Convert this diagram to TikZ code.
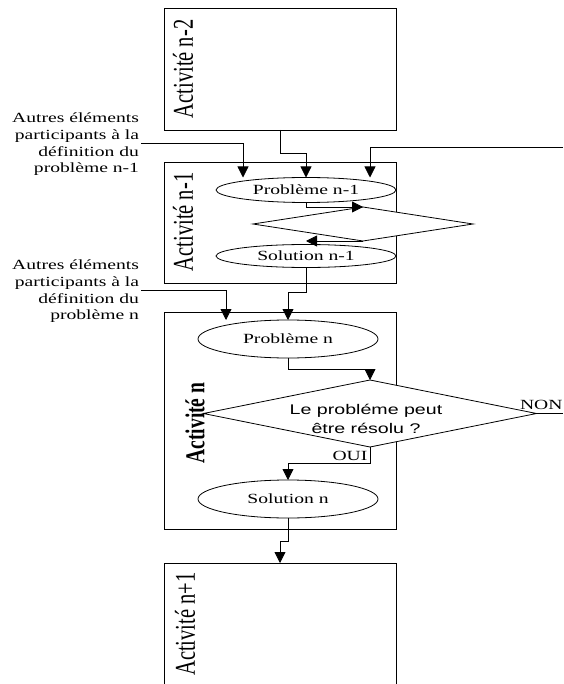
\documentclass[tikz,border=0pt]{standalone}
\usepackage{graphicx}
\usepackage{fontspec}
\setmainfont{Liberation Serif}
\newfontfamily\arialfont{Liberation Sans}
\usetikzlibrary{shapes.geometric,arrows.meta}
% text is set wide (horizontal labels) or tall (labels turned by 90 degrees)
\newcommand\wide[1]{\scalebox{1.4}[1]{#1}}
\newcommand\tall[1]{\scalebox{1}[1.4]{#1}}

\begin{document}
\begin{tikzpicture}[x=1pt,y=-1pt,
  every node/.style={inner sep=0pt, outer sep=0pt},
  actbox/.style={draw, line width=0.9pt, minimum width=232pt},
  state/.style={ellipse, draw, fill=white, line width=0.8pt, minimum width=180pt,
    font=\fontsize{14}{16}\selectfont},
  test/.style={diamond, draw, fill=white, line width=0.8pt},
  vlabel/.style={rotate=90, font=\fontsize{20.5}{24}\selectfont},
  note/.style={anchor=north east, font=\fontsize{14}{16.7}\selectfont},
  flow/.style={line width=0.8pt, -{Triangle[width=11pt,length=11pt]}},
  wire/.style={line width=0.8pt}]

\useasboundingbox (0,0) rectangle (563,684);

% activity frames
\node[actbox, minimum height=122pt] (A2) at (280,69) {};
\node[actbox, minimum height=121pt] (A1) at (280,222.5) {};
\node[actbox, minimum height=217pt] (AN) at (280,420.5) {};
\node[minimum width=232pt, minimum height=121pt] (A3) at (280,623.5) {};
\draw[line width=0.9pt] (A3.south west) -- (A3.north west) -- (A3.north east) -- (A3.south east);

% problems and solutions
\node[state, minimum height=25pt] (P1) at (306,190) {\wide{Problème n-1}};
\node[state, minimum height=23pt] (S1) at (306,256) {\wide{Solution n-1}};
\node[state, minimum height=38pt] (PN) at (288,339) {\wide{Problème n}};
\node[state, minimum height=38pt] (SN) at (288,499) {\wide{Solution n}};

% decisions
\node[test, minimum width=220pt, minimum height=34pt] (D1) at (363,224) {};
\node[test, minimum width=333pt, minimum height=67pt] (DN) at (370,413.5) {};
\node[font=\arialfont\fontsize{14}{19.5}\selectfont] (Q) at (366,420)
  {\wide{\begin{tabular}{@{}c@{}}Le probléme peut\\être résolu ?\end{tabular}}};

% activity names
\node[vlabel] (L2) at (183,69) {\tall{Activité n-2}};
\node[vlabel] (L1) at (183,222) {\tall{Activité n-1}};
\node[vlabel, font=\fontsize{19.5}{23}\selectfont\bfseries] (LN) at (195,423) {\tall{Activité n}};
\node[vlabel] (L3) at (185,624) {\tall{Activité n+1}};

% outside inputs
\node[note] (N1) at (139,111)
  {\wide{\begin{tabular}{@{}r@{}}Autres éléments\\participants à la\\définition du\\problème n-1\end{tabular}}};
\node[note] (N2) at (139,258)
  {\wide{\begin{tabular}{@{}r@{}}Autres éléments\\participants à la\\définition du\\problème n\end{tabular}}};

\coordinate (e1) at (141,143.5);
\coordinate (e2) at (563,147.5);
\coordinate (e3) at (141,290);
\coordinate (e4) at (563,413.5);

% connectors
\draw[flow] (A2.south) -- ++(0,23) -| (P1.north);
\draw[flow] (e1) -| ([xshift=-63pt]P1.north);
\draw[flow] (e2) -| ([xshift=64pt]P1.north);
\draw[flow] (P1.south) |- (D1.north);
\draw[flow] (D1.south) -- (D1.south -| S1.north);
\draw[flow] (S1.south) -- ++(0,25) -| (PN.north);
\draw[flow] (e3) -| ([xshift=-62pt]PN.north);
\draw[flow] (PN.south) -- ++(0,11) -| (DN.north);
\draw[flow] (DN.south) -- ++(0,16) -| (SN.north);
\draw[wire] (DN.east) -- (e4);
\draw[flow] (SN.south) -- ++(0,23) -| (A3.north);

\node[font=\fontsize{14}{16}\selectfont] (oui) at (350,456) {\wide{OUI}};
\node[anchor=east, font=\fontsize{14}{16}\selectfont] (non) at (562.5,405) {\wide{NON}};
\end{tikzpicture}
\end{document}
